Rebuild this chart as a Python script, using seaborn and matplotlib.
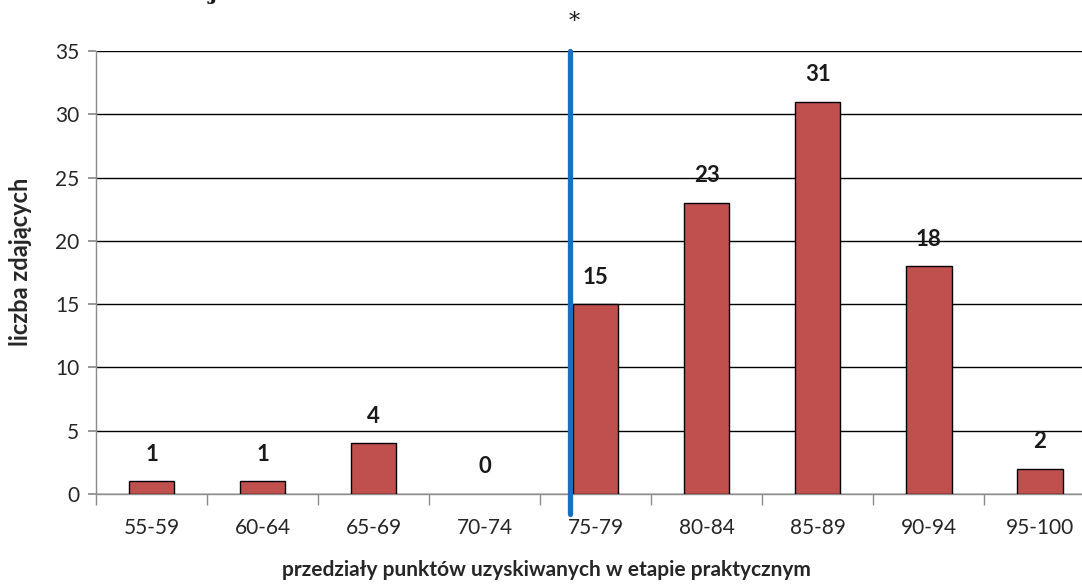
import matplotlib
matplotlib.use("Agg")
import matplotlib.pyplot as plt
import seaborn as sns
import pandas as pd

# --- DATA ---
przedzialy = ["55-59", "60-64", "65-69", "70-74", "75-79", "80-84", "85-89", "90-94", "95-100"]
liczba = [1, 1, 4, 0, 15, 23, 31, 18, 2]
prog = 3.77  # position of the pass threshold line (between 70-74 and 75-79)

df = pd.DataFrame({"przedzial": przedzialy, "liczba": liczba})

sns.set_theme(style="white")
plt.rcParams["font.family"] = ["Lato", "DejaVu Sans"]

fig = plt.figure(figsize=(10.82, 5.84), dpi=100)
ax = fig.add_axes([96 / 1082, 1 - 494 / 584, 1 - 96 / 1082, (494 - 51) / 584])

sns.barplot(data=df, x="przedzial", y="liczba", color="#C0504D", width=0.41,
            edgecolor="black", linewidth=1.0, saturation=1, ax=ax, zorder=3)
# no outline for empty bars
for p in ax.patches:
    if p.get_height() == 0:
        p.set_linewidth(0)

ax.set_yticks(range(0, 36, 5))
ax.yaxis.grid(True, color="black", linewidth=1.0, zorder=0)
ax.set_axisbelow(True)

for s in ["top", "right"]:
    ax.spines[s].set_visible(False)
for s in ["left", "bottom"]:
    ax.spines[s].set_color("#8c8c8c")
    ax.spines[s].set_linewidth(1.0)

# category separator ticks
ax.set_xticks([i - 0.5 for i in range(len(przedzialy) + 1)], minor=True)
ax.set_ylim(0, 35)
ax.set_xlim(-0.5, 8.38)
ax.tick_params(axis="x", which="minor", length=8, color="#8c8c8c", direction="out", bottom=True)
ax.tick_params(axis="x", which="major", length=0, labelsize=15, pad=17, colors="#262626")
ax.tick_params(axis="y", which="major", length=6, color="#8c8c8c", direction="out", left=True,
               labelsize=15, colors="#262626", pad=6)

ax.set_xlabel("przedziały punktów uzyskiwanych w etapie praktycznym", fontsize=15,
              fontweight="bold", va="center")
ax.xaxis.set_label_coords((546 - 96) / 986, -(570 - 494) / 443)
ax.set_ylabel("liczba zdających", fontsize=17, fontweight="bold", va="center")
ax.yaxis.set_label_coords(-(96 - 21) / 986, (494 - 262) / 443)

for i, v in enumerate(liczba):
    ax.annotate(str(v), (i, v), xytext=(0, 19.5), textcoords="offset points",
                ha="center", va="center", fontsize=16, fontweight="bold", color="#1a1a1a")

# threshold line, running a little below the axis
ax.axvline(prog, ymin=-0.045, ymax=1.0, color="#1A6FBE", linewidth=3.8, clip_on=False, zorder=4)
ax.text(prog + 0.04, 1.04, "*", transform=ax.get_xaxis_transform(), ha="center", va="bottom",
        fontsize=16, color="#1a1a1a", family="DejaVu Serif")

# cropped title remnant at the very top
fig.text(213 / 1082, 1.012, "j", ha="center", va="center", fontsize=16, fontweight="bold",
         family="DejaVu Serif", color="#1a1a1a")

fig.savefig("out.png", dpi=100)
